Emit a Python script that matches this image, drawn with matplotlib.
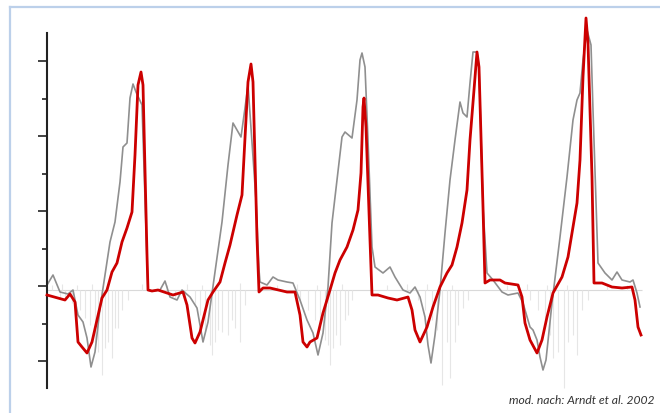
import matplotlib
matplotlib.use('Agg')
import matplotlib.pyplot as plt
from matplotlib.lines import Line2D

# Zeit (s) und Druck (willkürliche Einheit) - rote Kurve
red_t = [0.00, 0.18, 0.23, 0.28, 0.31, 0.35, 0.40, 0.45, 0.55, 0.60, 0.65, 0.70, 0.75, 0.80,
         0.85, 0.88, 0.91, 0.94, 0.96, 1.00, 1.01, 1.05, 1.11, 1.23, 1.26, 1.36, 1.40, 1.45,
         1.48, 1.53, 1.61, 1.66, 1.73, 1.78, 1.83, 1.90, 1.95, 1.98, 2.01, 2.04, 2.06, 2.10,
         2.12, 2.16, 2.23, 2.40, 2.48, 2.53, 2.56, 2.60, 2.63, 2.70, 2.76, 2.83, 2.88, 2.93,
         3.00, 3.06, 3.11, 3.14, 3.16, 3.17, 3.19, 3.23, 3.25, 3.31, 3.41, 3.50, 3.61, 3.65,
         3.68, 3.73, 3.80, 3.86, 3.93, 4.00, 4.05, 4.10, 4.15, 4.20, 4.23, 4.27, 4.30, 4.32,
         4.36, 4.38, 4.43, 4.53, 4.58, 4.71, 4.75, 4.78, 4.83, 4.90, 4.95, 5.00, 5.06, 5.15,
         5.21, 5.26, 5.30, 5.33, 5.36, 5.39, 5.41, 5.45, 5.47, 5.55, 5.65, 5.75, 5.85, 5.88,
         5.91, 5.94]
red_p = [-1.8, -2.8, -1.6, -3.2, -11.2, -12.2, -13.4, -11.2, -2.4, -0.8, 2.8, 4.6, 8.8, 11.6,
         14.8, 26.2, 40.2, 42.8, 40.2, 6.2, -0.8, -1.0, -0.8, -1.6, -1.8, -1.2, -3.8, -10.4,
         -11.4, -9.2, -2.8, -1.2, 0.8, 4.6, 8.2, 14.2, 18.2, 29.6, 40.8, 44.4, 40.8, 9.6,
         -1.2, -0.4, -0.4, -1.2, -1.2, -5.8, -11.2, -12.2, -11.2, -10.4, -5.4, -0.8, 2.6, 5.2,
         7.8, 11.2, 15.2, 22.6, 35.8, 37.6, 31.8, 9.2, -1.8, -1.8, -2.4, -2.8, -2.2, -4.8,
         -8.8, -11.2, -8.2, -4.2, -0.2, 2.6, 4.2, 7.8, 12.6, 19.2, 29.2, 39.2, 46.8, 43.8,
         15.8, 0.6, 1.2, 1.2, 0.6, 0.2, -2.2, -7.4, -10.8, -13.4, -10.8, -6.2, -1.4, 1.8,
         5.8, 11.8, 16.6, 25.2, 41.8, 53.6, 48.6, 21.8, 0.6, 0.6, -0.2, -0.4, -0.2, -2.8,
         -8.2, -9.8]

# graue Kurve
gray_t = [0.00, 0.06, 0.13, 0.21, 0.26, 0.31, 0.36, 0.40, 0.44, 0.48, 0.53, 0.58, 0.63, 0.68,
          0.73, 0.76, 0.80, 0.83, 0.86, 0.89, 0.95, 1.00, 1.01, 1.05, 1.13, 1.18, 1.23, 1.30,
          1.35, 1.43, 1.50, 1.56, 1.61, 1.68, 1.75, 1.81, 1.86, 1.90, 1.94, 1.98, 2.01, 2.09,
          2.12, 2.13, 2.20, 2.26, 2.31, 2.40, 2.46, 2.53, 2.60, 2.66, 2.71, 2.76, 2.81, 2.85,
          2.90, 2.95, 2.98, 3.05, 3.10, 3.13, 3.15, 3.18, 3.21, 3.25, 3.28, 3.36, 3.43, 3.48,
          3.56, 3.63, 3.68, 3.73, 3.78, 3.81, 3.84, 3.88, 3.93, 3.98, 4.03, 4.08, 4.13, 4.16,
          4.20, 4.23, 4.26, 4.30, 4.32, 4.36, 4.40, 4.46, 4.55, 4.61, 4.71, 4.76, 4.83, 4.86,
          4.90, 4.93, 4.96, 4.99, 5.05, 5.13, 5.20, 5.26, 5.30, 5.33, 5.36, 5.40, 5.44, 5.46,
          5.51, 5.58, 5.65, 5.70, 5.75, 5.83, 5.86, 5.90, 5.93]
gray_p = [0.2, 2.2, -1.2, -1.6, -0.8, -5.8, -7.2, -10.4, -16.2, -13.2, -4.4, 2.2, 8.8, 12.8,
          20.8, 27.8, 28.6, 37.6, 40.4, 38.8, 36.2, 5.2, -0.8, -1.0, -0.8, 1.0, -2.2, -2.8,
          -0.8, -2.2, -4.4, -11.2, -7.2, 2.8, 12.8, 24.2, 32.6, 31.2, 29.8, 35.6, 40.2, 17.2,
          3.2, 0.8, 0.2, 1.8, 1.2, 0.8, 0.6, -2.8, -6.8, -9.4, -13.8, -9.4, -0.2, 12.6,
          21.2, 29.8, 30.8, 29.6, 37.2, 45.2, 46.6, 43.8, 29.2, 7.8, 3.8, 2.6, 3.8, 1.8,
          -0.8, -1.4, -0.2, -2.2, -6.2, -11.8, -15.4, -9.8, -0.8, 10.6, 21.2, 29.2, 36.8, 34.6,
          33.8, 40.6, 46.8, 46.8, 43.8, 15.8, 2.6, 1.2, -1.2, -1.8, -1.4, -3.4, -8.2, -8.8,
          -10.8, -14.2, -16.8, -14.8, -3.4, 9.8, 21.8, 33.2, 37.2, 38.6, 45.2, 51.2, 48.2, 35.2,
          4.6, 2.6, 1.2, 2.8, 1.2, 0.8, 1.2, -1.4, -4.2]

# hellgraues Signal (Ausschläge unter der Nulllinie)
spike_t = [0.13, 0.18, 0.25, 0.33, 0.38, 0.43, 0.48, 0.51, 0.55, 0.58, 0.61, 0.65, 0.68, 0.71,
           0.75, 0.81,
           1.28, 1.38, 1.48, 1.53, 1.58, 1.63, 1.65, 1.68, 1.71, 1.75, 1.81, 1.85, 1.88, 1.93,
           1.98,
           2.53, 2.61, 2.68, 2.73, 2.78, 2.81, 2.83, 2.86, 2.89, 2.93, 2.98, 3.01, 3.05,
           3.71, 3.78, 3.85, 3.90, 3.95, 4.00, 4.03, 4.08, 4.11, 4.16, 4.21,
           4.83, 4.91, 4.98, 5.03, 5.06, 5.11, 5.17, 5.21, 5.26, 5.30, 5.35, 5.41]
spike_p = [-2.4, -2.8, -3.4, -4.8, -6.4, -7.8, -11.2, -13.2, -17.8, -12.4, -11.2, -14.4, -8.4,
           -8.4, -4.8, -2.8,
           -2.4, -2.8, -3.8, -5.8, -8.8, -11.8, -13.8, -11.2, -8.8, -9.2, -9.8, -6.8, -8.4,
           -11.2, -3.8,
           -2.8, -4.8, -6.8, -8.8, -10.8, -11.8, -15.8, -12.4, -9.8, -11.8, -6.8, -5.8, -2.8,
           -2.8, -4.8, -6.8, -8.8, -19.8, -11.2, -18.4, -11.2, -7.8, -4.4, -2.8,
           -2.8, -4.8, -6.8, -9.8, -14.4, -13.2, -20.4, -11.2, -9.8, -13.8, -4.8, -2.8]
# kleine Ausschläge über der Nulllinie
up_t = [0.05, 0.15, 0.30, 0.45, 0.95, 1.20, 1.40, 1.55, 1.93, 2.30, 2.50, 2.70, 2.95, 3.40,
        3.60, 3.80, 4.05, 4.60, 4.80, 5.00, 5.20, 5.60, 5.80]
up_p = [0.2, 0.4, 0.2, 0.4, 0.4, 0.2, 0.4, 0.2, 0.6, 0.2, 0.4, 0.2, 0.4, 0.2, 0.4, 0.4, 0.2,
        0.2, 0.4, 0.2, 0.2, 0.2, 0.2]

baseline = -0.8
major_ticks = [-15, 0, 15, 30, 45]
minor_ticks = [-7.5, 7.5, 22.5, 37.5]

W, H = 660, 413
fig = plt.figure(figsize=(W / 100, H / 100), dpi=100)
ax = fig.add_axes([47 / W, 13 / H, 608 / W, 390 / H])
ax.set_xlim(0, 6.08)
ax.set_ylim(-22.8, 55.2)

# Signal hinten
ax.hlines(baseline, 0, 5.95, color='#d9d9d9', linewidth=0.8, zorder=1)
ax.vlines(spike_t, baseline, spike_p, color='#e6e6e6', linewidth=0.8, zorder=1, clip_on=False)
ax.vlines(up_t, baseline, up_p, color='#e6e6e6', linewidth=0.8, zorder=1)

ax.plot(gray_t, gray_p, color='#8f8f8f', linewidth=1.2, zorder=2, clip_on=False,
        solid_joinstyle='round')
ax.plot(red_t, red_p, color='#cc0000', linewidth=2.0, zorder=3, clip_on=False,
        solid_joinstyle='round')

for side in ['top', 'right', 'bottom']:
    ax.spines[side].set_visible(False)
ax.spines['left'].set_bounds(-20.4, 50.6)
ax.spines['left'].set_linewidth(1.5)
ax.spines['left'].set_color('#222222')
ax.set_yticks(major_ticks)
ax.set_yticks(minor_ticks, minor=True)
ax.tick_params(axis='y', which='major', length=6.5, width=1.2, color='#222222', labelleft=False)
ax.tick_params(axis='y', which='minor', length=3.6, width=1.2, color='#222222')
ax.set_xticks([])
ax.patch.set_visible(False)

# hellblauer Rahmen
frame_col = '#bcd0ea'
fig.add_artist(Line2D([10.5 / W, 10.5 / W], [0, 1 - 6.5 / H], transform=fig.transFigure,
                      color=frame_col, linewidth=1.6))
fig.add_artist(Line2D([10.5 / W, 1], [1 - 6.5 / H, 1 - 6.5 / H], transform=fig.transFigure,
                      color=frame_col, linewidth=1.6))

fig.text(509 / W, 1 - 401 / H, 'mod. nach: Arndt et al. 2002', fontsize=8.7,
         style='italic', family=['Lato', 'DejaVu Sans'], color='#333333',
         ha='left', va='center')

fig.savefig('out.png', dpi=100)
